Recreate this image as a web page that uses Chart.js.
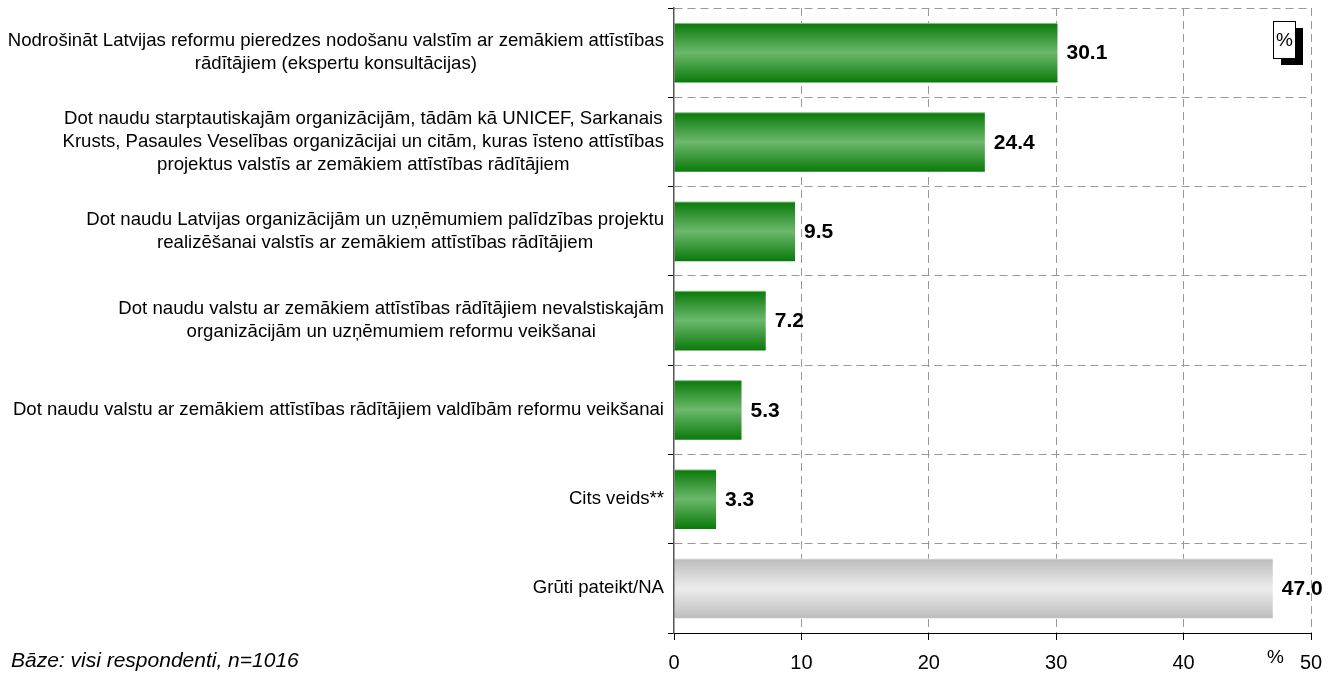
<!DOCTYPE html>
<html>
<head>
<meta charset="utf-8">
<script src="https://cdn.jsdelivr.net/npm/chart.js@4/dist/chart.umd.min.js"></script>
<style>
html,body{margin:0;padding:0;background:#fff;}
canvas{display:block;}
</style>
</head>
<body>
<canvas id="c" width="1337" height="673"></canvas>
<script>
const categories = [
  ["Nodrošināt Latvijas reformu pieredzes nodošanu valstīm ar zemākiem attīstības", "rādītājiem (ekspertu konsultācijas)"],
  ["Dot naudu starptautiskajām organizācijām, tādām kā UNICEF, Sarkanais", "Krusts, Pasaules Veselības organizācijai un citām, kuras īsteno attīstības", "projektus valstīs ar zemākiem attīstības rādītājiem"],
  ["Dot naudu Latvijas organizācijām un uzņēmumiem palīdzības projektu", "realizēšanai valstīs ar zemākiem attīstības rādītājiem"],
  ["Dot naudu valstu ar zemākiem attīstības rādītājiem nevalstiskajām", "organizācijām un uzņēmumiem reformu veikšanai"],
  ["Dot naudu valstu ar zemākiem attīstības rādītājiem valdībām reformu veikšanai"],
  ["Cits veids**"],
  ["Grūti pateikt/NA"]
];
const values = [30.1, 24.4, 9.5, 7.2, 5.3, 3.3, 47.0];
const xTicks = [0, 10, 20, 30, 40, 50];
const footnote = "Bāze: visi respondenti, n=1016";
const unitLabel = "%";

const FONT = "Arial, 'Liberation Sans', sans-serif";
const BAR_PCT = 0.67;

function barFill(ctx) {
  const chart = ctx.chart;
  const gray = ctx.dataIndex === values.length - 1;
  if (!chart.chartArea || !chart.scales.y) return gray ? '#d4d4d4' : '#3c9a3c';
  const ys = chart.scales.y;
  const c = ys.getPixelForValue(ctx.dataIndex);
  const h = ys.height / categories.length * BAR_PCT;
  const g = chart.ctx.createLinearGradient(0, c - h / 2, 0, c + h / 2);
  if (gray) {
    g.addColorStop(0, '#e6e6e6');
    g.addColorStop(0.03, '#bfbfbf');
    g.addColorStop(0.5, '#ececec');
    g.addColorStop(1, '#bdbdbd');
  } else {
    g.addColorStop(0, '#cfe6cf');
    g.addColorStop(0.03, '#0d7d0d');
    g.addColorStop(0.5, '#6cb86c');
    g.addColorStop(1, '#0a7a0a');
  }
  return g;
}

const labelPlugin = {
  id: 'labels',
  afterDraw(chart) {
    const ctx = chart.ctx;
    const ys = chart.scales.y, xs = chart.scales.x;
    ctx.save();
    ctx.font = "18.6px " + FONT;
    ctx.fillStyle = '#000';
    ctx.textBaseline = 'middle';
    ctx.textAlign = 'center';
    const lh = 23;
    categories.forEach((lines, i) => {
      const cy = ys.getPixelForValue(i);
      const widest = Math.max(...lines.map(l => ctx.measureText(l).width));
      const cx = chart.chartArea.left - 10 - widest / 2;
      lines.forEach((l, k) => {
        ctx.fillText(l, cx, cy + (k - (lines.length - 1) / 2) * lh);
      });
    });
    ctx.font = "bold 21px " + FONT;
    ctx.textAlign = 'left';
    const meta = chart.getDatasetMeta(0);
    meta.data.forEach((bar, i) => {
      ctx.fillText(values[i].toFixed(1), bar.x + 9, bar.y + 1);
    });
    ctx.font = "italic 21px " + FONT;
    ctx.textAlign = 'left';
    ctx.fillText(footnote, 11, 661);
    ctx.font = "19px " + FONT;
    ctx.textAlign = 'center';
    ctx.fillText(unitLabel, xs.getPixelForValue(47.2), 658);
    const bx = 1273, by = 21, bw = 22, bh = 37;
    ctx.fillStyle = '#000';
    ctx.fillRect(bx + 8, by + 7, bw, bh);
    ctx.fillStyle = '#fff';
    ctx.fillRect(bx, by, bw, bh);
    ctx.strokeStyle = '#000';
    ctx.lineWidth = 1;
    ctx.strokeRect(bx + 0.5, by + 0.5, bw, bh);
    ctx.fillStyle = '#000';
    ctx.font = "19px " + FONT;
    ctx.fillText(unitLabel, bx + bw / 2 + 0.5, by + bh / 2 + 1);
    ctx.restore();
  }
};

new Chart(document.getElementById('c'), {
  type: 'bar',
  data: {
    labels: categories,
    datasets: [{
      data: values,
      backgroundColor: barFill,
      borderWidth: 0,
      barPercentage: BAR_PCT,
      categoryPercentage: 1
    }]
  },
  options: {
    indexAxis: 'y',
    responsive: false,
    animation: false,
    devicePixelRatio: 1,
    layout: { padding: { left: 0, right: 26, top: 8, bottom: 0 } },
    plugins: { legend: { display: false }, tooltip: { enabled: false } },
    scales: {
      x: {
        min: 0, max: 50,
        afterBuildTicks(s) { s.ticks = xTicks.map(v => ({ value: v })); },
        afterFit(s) { s.height = 40; },
        grid: {
          color: c => (c.tick && c.tick.value === 0) ? 'rgba(0,0,0,0)' : '#999999',
          lineWidth: 1,
          tickLength: 7,
          tickColor: '#000'
        },
        border: { display: true, color: '#000', width: 1, dash: [8, 5] },
        ticks: {
          font: { family: FONT, size: 20 },
          color: '#000',
          padding: 11,
          maxRotation: 0
        }
      },
      y: {
        afterFit(s) { s.width = 674; },
        grid: {
          offset: true,
          color: c => (c.index === undefined) ? 'rgba(0,0,0,0)' : '#999999',
          lineWidth: 1,
          tickLength: 6,
          tickColor: '#000'
        },
        border: { display: true, color: '#555', width: 1.5, dash: [8, 5], z: 1 },
        ticks: { display: false }
      }
    }
  },
  plugins: [labelPlugin]
});
</script>
</body>
</html>
